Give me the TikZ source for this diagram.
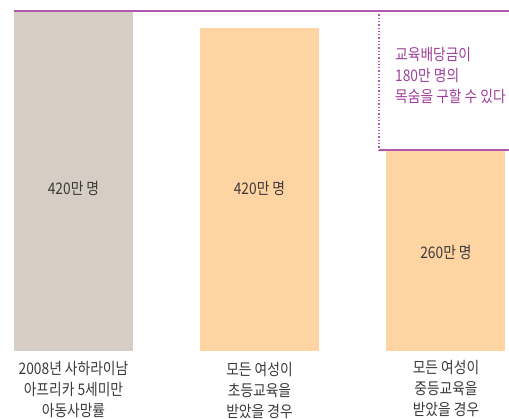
\documentclass[tikz,border=0pt]{standalone}
\usepackage{fontspec}
\setmainfont{Noto Sans CJK KR}[FakeStretch=0.86]
\definecolor{barGray}{HTML}{D6CEC5}
\definecolor{barOrange}{HTML}{FFD4A3}
\definecolor{lineP}{HTML}{B158AC}
\definecolor{textP}{HTML}{9E3F99}
\definecolor{textG}{HTML}{3A3A3A}
\tikzset{
  bar/.style={draw=none},
  val/.style={font=\fontsize{16}{18}\selectfont, text=textG, inner sep=0pt},
  lab/.style={font=\fontsize{16}{21}\selectfont, text=textG, align=center, inner sep=0pt, anchor=north},
  note/.style={font=\fontsize{16}{21}\selectfont, text=textP, align=left, inner sep=0pt, anchor=north west},
}
\begin{document}
\begin{tikzpicture}[x=1pt,y=-1pt]
\useasboundingbox (0,0) rectangle (509,418);
% bars
\fill[barGray] (14,11) rectangle (133,351);
\fill[barOrange] (200,28) rectangle (319,351);
\fill[barOrange] (386,151) rectangle (505,351);
% top line
\coordinate (tl) at (14,10.5);
\coordinate (tr) at (509,10.5);
\draw[lineP, line width=2pt] (tl) -- (tr);
% note box
\coordinate (nb1) at (379,11);
\coordinate (nb2) at (379,150);
\coordinate (nb3) at (509,150);
\draw[lineP, line width=1.3pt, dotted] (nb1) -- (nb2);
\draw[lineP, line width=1.8pt] (nb2) -- (nb3);
\node[note] (n) at (395,47) {교육배당금이\\180만 명의\\목숨을 구할 수 있다};
% values
\node[val] (v1) at (73.5,188.5) {420만 명};
\node[val] (v2) at (259.5,188.5) {420만 명};
\node[val] (v3) at (446,252.5) {260만 명};
% labels
\node[lab] (l1) at (73.5,361) {2008년 사하라이남\\아프리카 5세미만\\아동사망률};
\node[lab] (l2) at (259.5,362) {모든 여성이\\초등교육을\\받았을 경우};
\node[lab] (l3) at (446,360) {모든 여성이\\중등교육을\\받았을 경우};
\end{tikzpicture}
\end{document}
